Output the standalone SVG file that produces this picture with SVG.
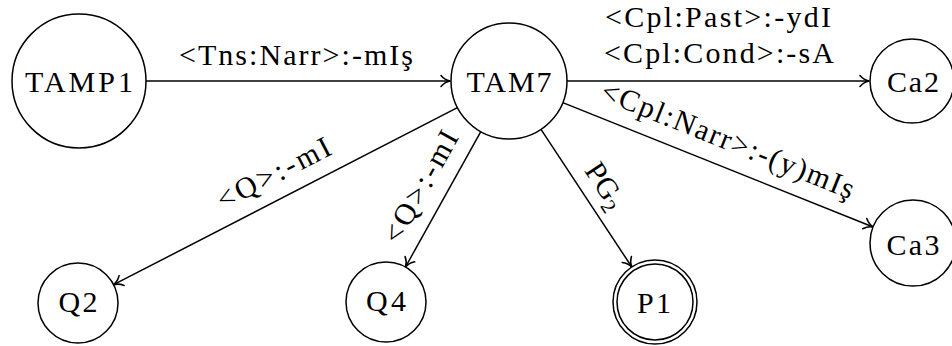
<svg xmlns="http://www.w3.org/2000/svg" width="952" height="346" viewBox="0 0 952 346" font-family="'Liberation Serif', 'DejaVu Serif', serif" font-size="30">
<style>
.st{fill:#fff;stroke:#000;stroke-width:1.5}
.ed{fill:none;stroke:#000;stroke-width:1.5;marker-end:url(#arr)}
.nl,.el{text-anchor:middle;fill:#000}
</style>
<defs>
<marker id="arr" viewBox="-12 -8 14 16" markerWidth="14" markerHeight="16" refX="0" refY="0" orient="auto" markerUnits="userSpaceOnUse">
<path d="M-9,-5.5 C-6,-2 -3,-0.6 0,0 C-3,0.6 -6,2 -9,5.5" fill="none" stroke="#000" stroke-width="1.6" stroke-linecap="round" stroke-linejoin="round"/>
</marker>
</defs>
<g id="edges">
<line class="ed" x1="146" y1="81" x2="450" y2="81"/>
<line class="ed" x1="567" y1="81" x2="869" y2="81"/>
<line class="ed" x1="562.8" y1="102.6" x2="873.1" y2="227"/>
<line class="ed" x1="457.4" y1="107.6" x2="113.6" y2="284.7"/>
<line class="ed" x1="480.8" y1="131.7" x2="405.5" y2="267"/>
<line class="ed" x1="541" y1="129.4" x2="631.8" y2="267"/>
<text class="el" x="296" y="65" textLength="234">&lt;Tns:Narr&gt;:-mIş</text>
<text class="el" x="718" y="27" textLength="226">&lt;Cpl:Past&gt;:-ydI</text>
<text class="el" x="719" y="63" textLength="230">&lt;Cpl:Cond&gt;:-sA</text>
<text class="el" transform="translate(724.3,149) rotate(21.85)" textLength="270">&lt;Cpl:Narr&gt;:-(y)mIş</text>
<text class="el" transform="translate(278.2,182) rotate(-27.25)" textLength="124">&lt;Q&gt;:-mI</text>
<text class="el" transform="translate(429.1,191.5) rotate(-60.9)" textLength="124">&lt;Q&gt;:-mI</text>
<text class="el" transform="translate(597.2,191) rotate(56.55)">PG<tspan font-size="21" dy="6">2</tspan></text>
</g>
<g id="TAMP1"><circle class="st" cx="79" cy="81" r="67"/><text class="nl" x="79" y="92" textLength="108">TAMP1</text></g>
<g id="TAM7"><circle class="st" cx="509" cy="81" r="58"/><text class="nl" x="509" y="92" textLength="85">TAM7</text></g>
<g id="Ca2"><circle class="st" cx="912" cy="81" r="42"/><text class="nl" x="913" y="92" textLength="52">Ca2</text></g>
<g id="Ca3"><circle class="st" cx="913" cy="243" r="43"/><text class="nl" x="913" y="255" textLength="53">Ca3</text></g>
<g id="Q2"><circle class="st" cx="78" cy="303" r="40"/><text class="nl" x="78" y="312" textLength="39">Q2</text></g>
<g id="Q4"><circle class="st" cx="386" cy="302" r="40"/><text class="nl" x="386" y="311" textLength="40">Q4</text></g>
<g id="P1"><circle class="st" cx="655" cy="302" r="42"/><circle class="st" cx="655" cy="302" r="38"/><text class="nl" x="654" y="313" textLength="34">P1</text></g>
</svg>
